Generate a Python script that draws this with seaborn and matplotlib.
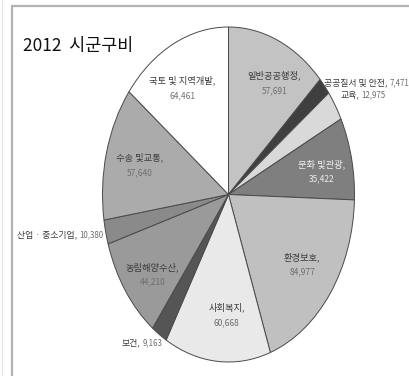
import numpy as np
import matplotlib
matplotlib.use("Agg")
import matplotlib.pyplot as plt
from matplotlib.lines import Line2D
import seaborn as sns

# 2012 시군구 세출 분야별 규모
categories = ["일반공공행정", "공공질서 및 안전", "교육", "문화 및관광", "환경보호",
              "사회복지", "보건", "농림해양수산", "산업 · 중소기업", "수송 및교통",
              "국토 및 지역개발"]
values = [57691, 7471, 12975, 35422, 84977, 60668, 9163, 44210, 10380, 57640, 64461]
value_labels = ["57,691", "7,471", "12,975", "35,422", "84,977", "60,668",
                "9,163", "44,210", "10,380", "57,640", "64,461"]
title = "2012  시군구비"

# slice fills (greyscale)
fills = ["#c3c3c3", "#3f3f3f", "#d9d9d9", "#7f7f7f", "#c0c0c0", "#e9e9e9",
         "#555555", "#9a9a9a", "#8a8a8a", "#ababab", "#ffffff"]
# label placement: (radius, angle shift in degrees, mode)
# mode "in": two-line centred inside; "left"/"right": single line outside
placement = [(0.76, -5.5, "in"), (1.01, 1.2, "left"), (1.07, 1.9, "left"),
             (0.75, -2.0, "in"), (0.72, 0.6, "in"), (0.72, 4.0, "in"),
             (1.03, 2.6, "right"), (0.77, 3.4, "in"), (1.025, 0.7, "right"),
             (0.73, 0.6, "in"), (0.735, 4.0, "in")]

sns.set_theme(style="white")
plt.rcParams["font.family"] = ["Noto Sans CJK KR", "DejaVu Sans"]

W, H = 410, 376
fig = plt.figure(figsize=(W / 100, H / 100), dpi=100)
fig.patch.set_facecolor("white")

# elliptical pie: axes box spans the ellipse, aspect left free
cx, cy, rx, ry = 228.5, 194.5, 126, 167.5
ax = fig.add_axes([(cx - rx) / W, (H - cy - ry) / H, 2 * rx / W, 2 * ry / H])
wedges, _ = ax.pie(values, colors=fills, startangle=90, counterclock=False,
                   wedgeprops=dict(edgecolor="#4a4a4a", linewidth=0.7))
ax.set_aspect("auto")
ax.set_xlim(-1, 1)
ax.set_ylim(-1, 1)
ax.axis("off")

fs_name, fs_val = 6.7, 6.0        # labels inside slices
fs_name_out, fs_val_out = 6.4, 5.7  # one-line labels beside small slices
dy = 7.5 / ry  # half line gap in data units

for w, name, vlab, fill, (r, dth, mode) in zip(wedges, categories, value_labels,
                                               fills, placement):
    dark = mode == "in" and fill in ("#7f7f7f",)
    name_color = "#f4f4f4" if dark else "#3a3a3a"
    val_color = "#eeeeee" if dark else "#6e6e6e"
    mid = np.deg2rad((w.theta1 + w.theta2) / 2 + dth)
    x, y = r * np.cos(mid), r * np.sin(mid)
    if mode == "in":
        ax.text(x, y + dy, name + ",", ha="center", va="center",
                fontsize=fs_name, color=name_color, clip_on=False)
        ax.text(x, y - dy, vlab, ha="center", va="center",
                fontsize=fs_val, color=val_color, clip_on=False)
    elif mode == "left":
        t = ax.text(x, y, name + ",", ha="left", va="center",
                    fontsize=fs_name_out, color=name_color, clip_on=False)
        ax.annotate(vlab, xy=(1, 0.5), xycoords=t, xytext=(1.5, 0),
                    textcoords="offset points", ha="left", va="center",
                    fontsize=fs_val_out, color=val_color, annotation_clip=False)
    else:
        t = ax.text(x, y, vlab, ha="right", va="center",
                    fontsize=fs_val_out, color=val_color, clip_on=False)
        ax.annotate(name + ",", xy=(0, 0.5), xycoords=t, xytext=(-1.5, 0),
                    textcoords="offset points", ha="right", va="center",
                    fontsize=fs_name_out, color=name_color, annotation_clip=False)

fig.text(23 / W, 1 - 46 / H, title, ha="left", va="center",
         fontsize=12.5, color="#111111")

# panel frame (top and left rules)
fx, fy = 12 / W, 1 - 6 / H
fig.add_artist(Line2D([fx, fx], [0, fy], color="#b3b3b3", lw=1.6,
                      transform=fig.transFigure))
fig.add_artist(Line2D([fx, 1], [fy, fy], color="#b3b3b3", lw=1.6,
                      transform=fig.transFigure))
fig.add_artist(Line2D([2 / W, 2 / W], [0, 1], color="#e6e6e6", lw=1.0,
                      transform=fig.transFigure))

fig.savefig("out.png", dpi=100, facecolor="white")
